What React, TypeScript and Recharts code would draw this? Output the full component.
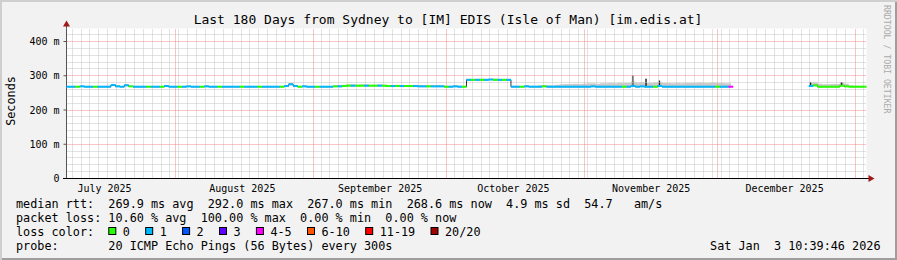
import React from 'react';
import { ComposedChart, XAxis, YAxis, CartesianGrid, ReferenceLine, Area, Line, Scatter, Bar } from 'recharts';

// x axis: days since the start of the 180 day window (Jul 7 2025 10:40)
const monthLabels = ['July 2025', 'August 2025', 'September 2025', 'October 2025', 'November 2025', 'December 2025'];
const monthLabelDays = [8.56, 39.56, 70.56, 100.56, 131.56, 161.56];
const monthStartDays = [24.56, 55.56, 85.56, 116.56, 146.56, 177.56];
const yTicks = [0, 100, 200, 300, 400];

// median rtt per day (ms), null = no answer
const median = [
    268, 268, 268, 269, 268, 268, 268, 268, 268, 268,
    273, 269, 268, 272, 269, 268, 268, 268, 268, 268,
    268, 268, 270, 268, 268, 268, 268, 269, 268, 268,
    268, 269, 268, 268, 268, 268, 268, 268, 268, 268,
    268, 268, 268, 268, 268, 268, 268, 268, 268, 270,
    275, 270, 268, 269, 268, 268, 268, 268, 268, 268,
    269, 269, 270, 271, 271, 271, 271, 271, 271, 271,
    271, 271, 270, 270, 270, 270, 270, 270, 270, 269,
    269, 269, 269, 269, 269, 268, 268, 269, 268, 268,
    288, 288, 288, 288, 288, 289, 288, 288, 288, 288,
    268, 268, 268, 269, 268, 268, 268, 269, 268, 268,
    268, 268, 268, 268, 268, 268, 268, 268, 269, 268,
    268, 268, 268, 268, 268, 268, 268, 270, 268, 269,
    268, 268, 268, 270, 268, 268, 268, 268, 268, 268,
    268, 268, 268, 268, 268, 268, 268, 268, 268, 268,
    null, null, null, null, null, null, null, null, null, null,
    null, null, null, null, null, null, null, 270, 272, 268,
    268, 268, 268, 268, 271, 269, 268, 268, 268, 268,
];

// loss class per day (index into lossColors)
const loss = [
    1, 1, 0, 1, 1, 1, 0, 1, 1, 1,
    1, 1, 1, 1, 0, 1, 1, 1, 0, 1,
    1, 0, 1, 1, 1, 0, 1, 1, 1, 1,
    0, 1, 1, 1, 0, 1, 1, 1, 1, 0,
    1, 1, 1, 0, 1, 1, 1, 1, 0, 1,
    1, 1, 0, 1, 1, 1, 0, 1, 1, 1,
    0, 1, 0, 0, 1, 0, 0, 1, 0, 0,
    1, 0, 0, 1, 0, 1, 0, 0, 1, 1,
    1, 0, 1, 1, 1, 0, 1, 1, 1, 0,
    1, 0, 1, 0, 1, 1, 0, 1, 0, 1,
    1, 1, 0, 1, 1, 1, 1, 0, 1, 1,
    1, 1, 1, 1, 1, 1, 1, 1, 1, 1,
    1, 1, 1, 1, 1, 0, 1, 1, 1, 1,
    1, 1, 0, 1, 1, 1, 1, 1, 1, 1,
    1, 1, 1, 1, 1, 1, 0, 1, 1, 4,
    null, null, null, null, null, null, null, null, null, null,
    null, null, null, null, null, null, null, 1, 0, 0,
    0, 0, 0, 0, 0, 0, 0, 0, 0, 0,
];

// top of the smoke per day (ms)
const smokeHi = [
    270, 270, 270, 271, 270, 270, 270, 270, 270, 271,
    276, 272, 270, 275, 271, 270, 270, 270, 270, 270,
    270, 270, 273, 270, 270, 270, 270, 271, 270, 270,
    270, 271, 270, 270, 270, 270, 270, 270, 270, 271,
    270, 270, 270, 270, 270, 270, 270, 270, 271, 273,
    279, 273, 270, 271, 270, 270, 270, 270, 270, 270,
    272, 273, 274, 275, 275, 274, 275, 275, 274, 274,
    275, 274, 273, 273, 274, 273, 273, 273, 273, 272,
    272, 272, 272, 272, 272, 271, 271, 272, 271, 271,
    291, 291, 291, 292, 291, 291, 292, 291, 291, 291,
    271, 271, 270, 272, 271, 271, 272, 273, 272, 272,
    274, 275, 276, 276, 277, 276, 277, 278, 278, 277,
    278, 278, 279, 278, 279, 279, 279, 283, 280, 281,
    279, 279, 280, 282, 279, 279, 278, 279, 278, 279,
    279, 279, 280, 279, 279, 280, 279, 279, 278, 278,
    null, null, null, null, null, null, null, null, null, null,
    null, null, null, null, null, null, null, 280, 281, 277,
    275, 275, 276, 276, 281, 277, 272, 271, 271, 271,
];

// dark ping spikes
const spikeDays = [127, 130, 133, 167, 174];
const spikeTops = [301, 291, 286, 282, 281];

const lossColors = ['#26ff00', '#00b8ff', '#0059ff', '#5e00ff', '#ff00ff', '#ff5500', '#ff0000', '#a10000'];
const lossLabels = ['0', '1', '2', '3', '4-5', '6-10', '11-19', '20/20'];

const title = 'Last 180 Days from Sydney to [IM] EDIS (Isle of Man) [im.edis.at]';
const rttLine = 'median rtt:  269.9 ms avg  292.0 ms max  267.0 ms min  268.6 ms now  4.9 ms sd  54.7   am/s';
const lossLine = 'packet loss: 10.60 % avg  100.00 % max  0.00 % min  0.00 % now';
const probeLine = 'probe:       20 ICMP Echo Pings (56 Bytes) every 300s';
const dateText = 'Sat Jan  3 10:39:46 2026';

const table = median.map((m, i) => {
    const s = spikeDays.indexOf(i);
    return {
        day: i + 0.5,
        median: m,
        loss: loss[i],
        smoke: m === null || smokeHi[i] === null ? null : [m, smokeHi[i]],
        spike: m === null || s < 0 ? null : [m, spikeTops[s]],
    };
});
const medianPoints = table.filter((d) => d.median !== null);

const minorY: number[] = [];
for (let v = 20; v < 438; v += 20) if (v % 100 !== 0) minorY.push(v);
const majorY = yTicks.filter((v) => v > 0);
const minorX: number[] = [];
for (let d = 1.27; d < 180; d += 2) {
    // a month line takes the place of a 2-day line that falls on top of it
    if (monthStartDays.every((m) => Math.abs(m - d) > 0.3)) minorX.push(d);
}

const mono = 'DejaVu Sans Mono, monospace';
const CHAR = 7.1;
const pre: React.CSSProperties = { whiteSpace: 'pre' };

// grid line drawn on pixel centres so the 1-1 dots stay crisp
const snap = (v: number) => Math.floor(v) + 0.5;
const gridShape = (color: string) => (p: any) => (
    <line
        x1={snap(p.x1)}
        y1={snap(p.y1)}
        x2={snap(p.x2)}
        y2={snap(p.y2)}
        stroke={color}
        strokeWidth={1}
        strokeDasharray="1 1"
    />
);
const minorShape = gridShape('#c4c4c4');
const majorShape = gridShape('#f08c8c');

const MedianMark = (p: any) => {
    if (p.cx == null || p.cy == null) return <g />;
    return <rect x={p.cx - 2.3} y={p.cy - 1} width={4.6} height={2} fill={lossColors[p.payload.loss]} />;
};

const T = (props: any) => <text xmlSpace="preserve" style={pre} {...props} />;

const Overlay = () => {
    let cursor = 108.3;
    const items = lossLabels.map((lab, i) => {
        const bx = cursor;
        cursor = bx + 14.5 + lab.length * CHAR + 15.3;
        return (
            <g key={lab}>
                <rect x={bx + 0.5} y={227.5} width={7} height={7} fill={lossColors[i]} stroke="#000" strokeWidth={1} />
                <T x={bx + 14.5} y={236}>{lab}</T>
            </g>
        );
    });
    return (
        <svg width={897} height={260} style={{ position: 'absolute', left: 0, top: 0, pointerEvents: 'none' }}>
            <g fontFamily={mono} fill="#000">
                <T x={448} y={23.6} fontSize={13} textAnchor="middle">{title}</T>
                <T transform="translate(14.5,101) rotate(-90)" fontSize={11.8} textAnchor="middle">Seconds</T>
                <T transform="translate(883.5,5) rotate(90)" fontSize={8.2} fill="#aaaaaa">RRDTOOL / TOBI OETIKER</T>
                <g fontSize={11.8}>
                    <T x={16} y={208}>{rttLine}</T>
                    <T x={16} y={222}>{lossLine}</T>
                    <T x={16} y={236}>loss color:</T>
                    {items}
                    <T x={16} y={250}>{probeLine}</T>
                    <T x={880.5} y={250} textAnchor="end">{dateText}</T>
                </g>
            </g>
            <line x1={66.5} y1={25} x2={66.5} y2={28.5} stroke="#555" />
            <polygon points="66.5,20.5 63,26.5 70,26.5" fill="#a01818" />
            <line x1={63} y1={178.5} x2={869} y2={178.5} stroke="#000" />
            <polygon points="868.5,175 868.5,182 874.5,178.5" fill="#a01818" />
        </svg>
    );
};

const App: React.FC = () => {
    return (
        <div
            style={{
                position: 'absolute',
                left: 0,
                top: 0,
                width: 897,
                height: 260,
                background: '#f2f2f2',
                boxShadow: 'inset 2px 2px 0 #cfcfcf, inset -2px -2px 0 #9e9e9e',
            }}
        >
            <ComposedChart
                width={897}
                height={260}
                data={table}
                margin={{ top: 28.5, right: 30.5, left: 0, bottom: 61.5 }}
            >
                <CartesianGrid horizontal={false} vertical={false} fill="#ffffff" stroke="none" />
                {minorY.map((v) => (
                    <ReferenceLine key={'hy' + v} y={v} shape={minorShape} />
                ))}
                {minorX.map((v) => (
                    <ReferenceLine key={'vx' + v} x={v} shape={minorShape} />
                ))}
                {majorY.map((v) => (
                    <ReferenceLine key={'my' + v} y={v} shape={majorShape} />
                ))}
                {monthStartDays.map((v) => (
                    <ReferenceLine key={'mx' + v} x={v} shape={majorShape} />
                ))}
                <XAxis
                    type="number"
                    dataKey="day"
                    domain={[0, 180]}
                    ticks={monthLabelDays}
                    interval={0}
                    tickFormatter={(v) => monthLabels[monthLabelDays.indexOf(v)]}
                    tick={{ fontFamily: mono, fontSize: 10, fill: '#000' }}
                    axisLine={false}
                    tickLine={false}
                    tickSize={0}
                    tickMargin={6}
                    height={20}
                />
                <YAxis
                    type="number"
                    domain={[0, 438]}
                    ticks={yTicks}
                    interval={0}
                    tickFormatter={(v) => (v === 0 ? '0' : `${v} m`)}
                    tick={{ fontFamily: mono, fontSize: 10, fill: '#000' }}
                    axisLine={{ stroke: '#555' }}
                    tickLine={{ stroke: '#555' }}
                    tickSize={3}
                    tickMargin={4}
                    width={66.5}
                />
                <Area
                    dataKey="smoke"
                    type="step"
                    fill="#cbcbcb"
                    fillOpacity={1}
                    stroke="none"
                    isAnimationActive={false}
                />
                <Bar dataKey="spike" barSize={1.5} fill="#222" isAnimationActive={false} />
                <Line
                    dataKey="median"
                    type="step"
                    stroke="#333"
                    strokeWidth={1}
                    dot={false}
                    isAnimationActive={false}
                />
                <Scatter data={medianPoints} dataKey="median" shape={MedianMark} isAnimationActive={false} />
            </ComposedChart>
            <Overlay />
        </div>
    );
};

export default App;
